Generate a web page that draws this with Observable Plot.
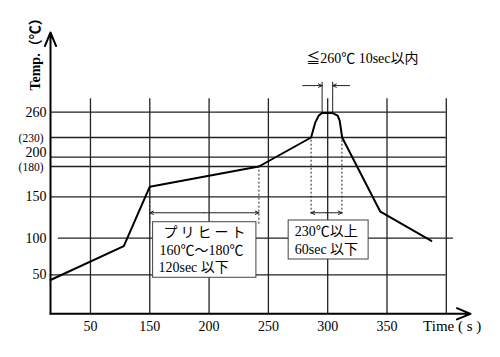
<!DOCTYPE html>
<html><head><meta charset="utf-8">
<script src="https://cdn.jsdelivr.net/npm/d3@7"></script>
<script src="https://cdn.jsdelivr.net/npm/@observablehq/plot@0.6"></script>
<style>body{margin:0;background:#fff} svg{display:block}</style>
</head><body><div id="chart"></div>
<script>
// Reflow temperature profile (time in s, temperature in ℃)
const profileTime = [66.3, 128.1, 150, 242, 286, 289.6, 292.4, 295.3, 304.2, 308.4, 310.1, 312.2, 344.4, 387.4];
const profileTemp = [43.3, 89.1, 160, 180, 230, 248, 256, 259, 259, 256, 250, 230, 132, 96.4];

const xTicks = [100, 150, 200, 250, 300, 350];
const xTickLabels = ["50", "150", "200", "250", "300", "350"];
const xGrid = [100, 150, 200, 250, 300, 350, 400];

const yTicks = [50, 100, 150, 260];
const yTicksRaised = [200];
const yParenTicks = [180, 230];
const yGrid = [50, 100, 150, 180, 200, 230, 260];

const preheatLines = ["プリヒート", "160℃～180℃", "120sec 以下"];
const peakLines = ["230℃以上", "60sec 以下"];
const peakTitle = "≦260℃ 10sec以内";

// the original temperature axis is drawn unevenly (schematic); piecewise stops
const tempStops = [0, 50, 100, 150, 180, 200, 230, 260, 355];
const axisStops = [0, 39, 75.6, 117, 147.3, 156.6, 176.3, 201.6, 281.3];
const kStop = 355 / 281.3;
const tempTransform = d3.scaleLinear().domain(tempStops).range(axisStops.map(h => h * kStop));

const xMin = 66.3, xMax = 420.4;
const serif = "'Liberation Serif', 'Noto Sans CJK JP', serif";
const ink = "#222";

const profile = profileTime.map((t, i) => ({t, v: profileTemp[i]}));

const chart = Plot.plot({
  width: 500, height: 357,
  marginLeft: 50, marginRight: 30, marginTop: 32, marginBottom: 43.7,
  style: {fontFamily: serif, background: "white", color: "black"},
  x: {domain: [xMin, xMax], axis: null},
  y: {domain: [0, 355], transform: v => tempTransform(v), axis: null},
  marks: [
    // grid
    Plot.ruleX(xGrid, {x: d => d, y1: 0, y2: 276, stroke: ink, strokeWidth: 1.3}),
    Plot.ruleY(yGrid.filter(d => d !== 100), {y: d => d, x1: xMin, x2: 400, stroke: ink, strokeWidth: 1.3}),
    Plot.ruleY([100], {y: d => d, x1: 73, x2: 406, stroke: ink, strokeWidth: 1.3}),
    // annotation boxes
    Plot.rect([{x1: 152.8, x2: 239.9, y1: 46.2, y2: 119.3}], {x1: "x1", x2: "x2", y1: "y1", y2: "y2", fill: "white", stroke: "#444", strokeWidth: 1}),
    Plot.rect([{x1: 267.1, x2: 334.5, y1: 70.9, y2: 121.4}], {x1: "x1", x2: "x2", y1: "y1", y2: "y2", fill: "white", stroke: "#444", strokeWidth: 1}),
    // dashed markers
    Plot.ruleX([150], {x: d => d, y1: 118, y2: 160, stroke: ink, strokeDasharray: "2,2", strokeWidth: 1}),
    Plot.ruleX([242], {x: d => d, y1: 117, y2: 180, stroke: ink, strokeDasharray: "2,2", strokeWidth: 1}),
    Plot.ruleX([286, 312], {x: d => d, y1: 129, y2: 230, stroke: ink, strokeDasharray: "2,2", strokeWidth: 1}),
    // peak limit lines
    Plot.ruleX([295.3, 304.2], {x: d => d, y1: 259, y2: 295.6, stroke: ink, strokeWidth: 1}),
    // dimension arrows
    Plot.arrow([{a: 196, b: 150}, {a: 196, b: 242}], {x1: "a", x2: "b", y1: 130.7, y2: 130.7, stroke: ink, strokeWidth: 1, headLength: 6, headAngle: 50}),
    Plot.arrow([{a: 299, b: 286}, {a: 299, b: 312}], {x1: "a", x2: "b", y1: 130.7, y2: 130.7, stroke: ink, strokeWidth: 1, headLength: 6, headAngle: 50}),
    Plot.arrow([{a: 278.9, b: 295.3}, {a: 318.5, b: 304.2}], {x1: "a", x2: "b", y1: 291.7, y2: 291.7, stroke: ink, strokeWidth: 1, headLength: 6, headAngle: 50}),
    // profile curve
    Plot.line(profile, {x: "t", y: "v", stroke: "black", strokeWidth: 2}),
    // axes
    Plot.arrow([0], {x1: xMin, y1: 0, x2: xMin, y2: 355, stroke: "black", strokeWidth: 2, headLength: 11, headAngle: 45}),
    Plot.arrow([0], {x1: xMin, y1: 0, x2: xMax, y2: 0, stroke: "black", strokeWidth: 2, headLength: 11, headAngle: 45}),
    // tick labels
    Plot.text(yTicks, {x: xMin, y: d => d, text: d => String(d), textAnchor: "end", dx: -4, fontSize: 14}),
    Plot.text(yTicksRaised, {x: xMin, y: d => d, text: d => String(d), textAnchor: "end", dx: -4, dy: -5, fontSize: 14}),
    Plot.text(yParenTicks, {x: xMin, y: d => d, text: d => `(${d})`, textAnchor: "end", dx: -7, dy: 1, fontSize: 11.5}),
    Plot.text(xTicks, {x: d => d, y: 0, text: (d, i) => xTickLabels[i], dy: 12.5, fontSize: 14}),
    // axis titles
    Plot.text(["Temp.（℃）"], {x: 53.7, y: 333, text: d => d, rotate: -90, fontWeight: "bold", fontSize: 14}),
    Plot.text(["Time ( s )"], {x: 405, y: 0, text: d => d, dy: 12, fontSize: 15}),
    // annotation texts
    Plot.text(preheatLines, {x: (d, i) => [161.5, 158.1, 157.3][i], y: (d, i) => [106.5, 83.2, 60][i], text: d => d, textAnchor: "start", fontSize: 14}),
    Plot.text(peakLines, {x: 272.2, y: (d, i) => [108.5, 84.6][i], text: d => d, textAnchor: "start", fontSize: 14}),
    Plot.text([peakTitle], {x: 329.2, y: 323.7, text: d => d, fontSize: 14})
  ]
});

d3.select(chart).selectAll("text").filter(function() { return this.textContent === "プリヒート"; }).style("letter-spacing", "3px");
document.getElementById("chart").appendChild(chart);
</script>
</body></html>
